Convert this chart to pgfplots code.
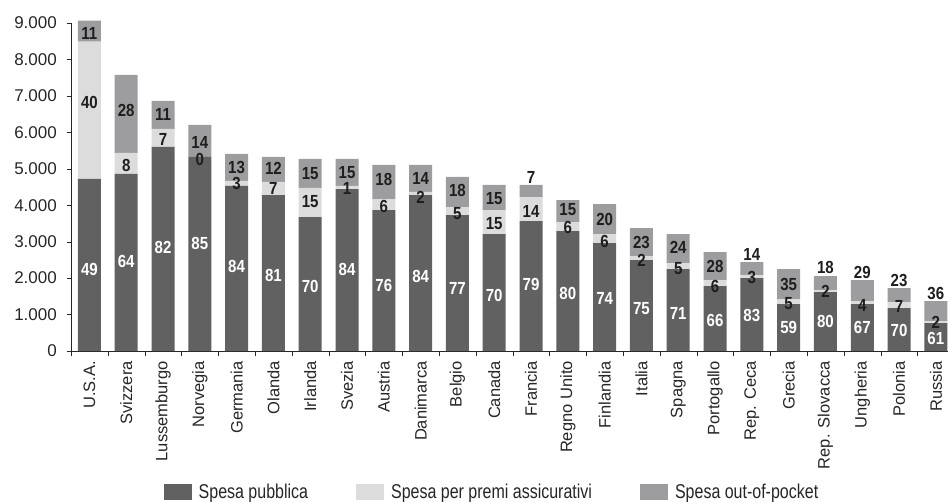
\documentclass[border=0pt]{standalone}
\usepackage{pgfplots}
\pgfplotsset{compat=1.18}
\usepackage{fontspec}
\setmainfont{Liberation Sans}
\newfontfamily\lblfont{Liberation Sans}[FakeStretch=0.86]
\newfontfamily\condfont{Liberation Sans}[FakeStretch=0.8]
\definecolor{cpub}{HTML}{616161}
\definecolor{cins}{HTML}{DCDCDD}
\definecolor{coop}{HTML}{9D9D9F}
\definecolor{ctxt}{HTML}{1E1E1E}
\pgfplotsset{
  common/.style={
    at={(71bp,151bp)}, anchor=south west,
    scale only axis, width=877bp, height=328bp,
    xmin=-0.5, xmax=23.33, ymin=0, ymax=9000,
    enlargelimits=false, clip=false,
  }
}
\begin{document}
\begin{tikzpicture}
\path[use as bounding box] (0,0) rectangle (948bp,502bp);
\begin{axis}[common,
  ybar stacked, bar width=23bp,
  axis x line=bottom, axis y line=left,
  axis line style={-, black!85},
  xtick={0,...,23},
  xticklabels={U.S.A.,Svizzera,Lussemburgo,Norvegia,Germania,Olanda,Irlanda,Svezia,Austria,Danimarca,Belgio,Canada,Francia,Regno Unito,Finlandia,Italia,Spagna,Portogallo,Rep. Ceca,Grecia,Rep. Slovacca,Ungheria,Polonia,Russia},
  minor xtick={-0.5,0.5,...,22.5},
  major x tick style={draw=none},
  minor x tick style={draw=black!85},
  minor tick length=5bp,
  major tick length=4bp,
  tick align=outside,
  ytick={0,1000,...,9000},
  ytick style={draw=black!85},
  /pgf/number format/.cd, 1000 sep={.}, assume math mode=true,
  /pgfplots/.cd,
  xticklabel style={rotate=90, anchor=east, inner sep=0pt, font=\fontsize{16.5bp}{18bp}\selectfont, text=black!85},
  xticklabel shift=6bp,
  yticklabel style={anchor=east, inner sep=0pt, font=\fontsize{17bp}{19bp}\selectfont, text=black!85},
  yticklabel shift=10bp,
  legend style={at={(0.48,-0.43)}, anchor=center, draw=none, fill=none,
    legend columns=3, font=\condfont\fontsize{20bp}{22bp}\selectfont, text=black!85,
    /tikz/every even column/.append style={column sep=46bp}},
  legend cell align=left,
  legend image code/.code={\fill[#1] (0bp,-8bp) rectangle (28bp,8bp); \path (33bp,0bp);},
]
\addplot[fill=cpub, draw=none] coordinates {
(0,4720) (1,4857) (2,5600) (3,5325) (4,4528) (5,4280) (6,3675) (7,4445)
(8,3868) (9,4280) (10,3730) (11,3208) (12,3565) (13,3290) (14,2961) (15,2493)
(16,2246) (17,1779) (18,1999) (19,1284) (20,1614) (21,1284) (22,1174) (23,764)};
\addlegendentry{Spesa pubblica}
\addplot[fill=cins, draw=none] coordinates {
(0,3766) (1,578) (2,495) (3,0) (4,137) (5,358) (6,798) (7,83)
(8,302) (9,83) (10,220) (11,660) (12,660) (13,248) (14,247) (15,110)
(16,165) (17,165) (18,82) (19,137) (20,55) (21,82) (22,165) (23,52)};
\addlegendentry{Spesa per premi assicurativi}
\addplot[fill=coop, draw=none] coordinates {
(0,577) (1,2144) (2,769) (3,880) (4,742) (5,687) (6,797) (7,742)
(8,935) (9,742) (10,825) (11,687) (12,330) (13,605) (14,825) (15,770)
(16,797) (17,769) (18,357) (19,825) (20,384) (21,578) (22,385) (23,550)};
\addlegendentry{Spesa out-of-pocket}
\end{axis}
\begin{axis}[common, hide axis,
  nodes near coords, point meta=explicit symbolic,
  nodes near coords align={center},
  every node near coord/.append style={font=\lblfont\bfseries\fontsize{17.5bp}{19bp}\selectfont, inner sep=0pt},
]
\addplot[only marks, mark=none, every node near coord/.append style={text=white}] coordinates {
(0,2246)[49] (1,2466)[64] (2,2850)[82] (3,2952)[85] (4,2310)[84] (5,2081)[81]
(6,1759)[70] (7,2238)[84] (8,1806)[76] (9,2034)[84] (10,1715)[77] (11,1531)[70]
(12,1834)[79] (13,1578)[80] (14,1440)[74] (15,1165)[75] (16,1028)[71] (17,844)[66]
(18,962)[83] (19,643)[59] (20,797)[80] (21,632)[67] (22,569)[70] (23,345)[61]};
\addplot[only marks, mark=none, every node near coord/.append style={text=ctxt}] coordinates {
(0,6809)[40] (1,5086)[8] (2,5811)[7] (3,5262)[0] (4,4583)[3] (5,4464)[7]
(6,4096)[15] (7,4470)[1] (8,3978)[6] (9,4217)[2] (10,3777)[5] (11,3483)[15]
(12,3840)[14] (13,3381)[6] (14,3015)[6] (15,2474)[2] (16,2265)[5] (17,1779)[6]
(18,2018)[3] (19,1303)[5] (20,1641)[2] (21,1256)[4] (22,1229)[7] (23,790)[2]};
\addplot[only marks, mark=none, every node near coord/.append style={text=ctxt}] coordinates {
(0,8725)[11] (1,6590)[28] (2,6480)[11] (3,5718)[14] (4,5031)[13] (5,5014)[12]
(6,4877)[15] (7,4900)[15] (8,4693)[18] (9,4739)[14] (10,4398)[18] (11,4170)[15]
(12,4767)[7] (13,3868)[15] (14,3612)[20] (15,2969)[23] (16,2831)[24] (17,2328)[28]
(18,2658)[14] (19,1834)[35] (20,2293)[18] (21,2155)[29] (22,1944)[23] (23,1578)[36]};
\end{axis}
\end{tikzpicture}
\end{document}
